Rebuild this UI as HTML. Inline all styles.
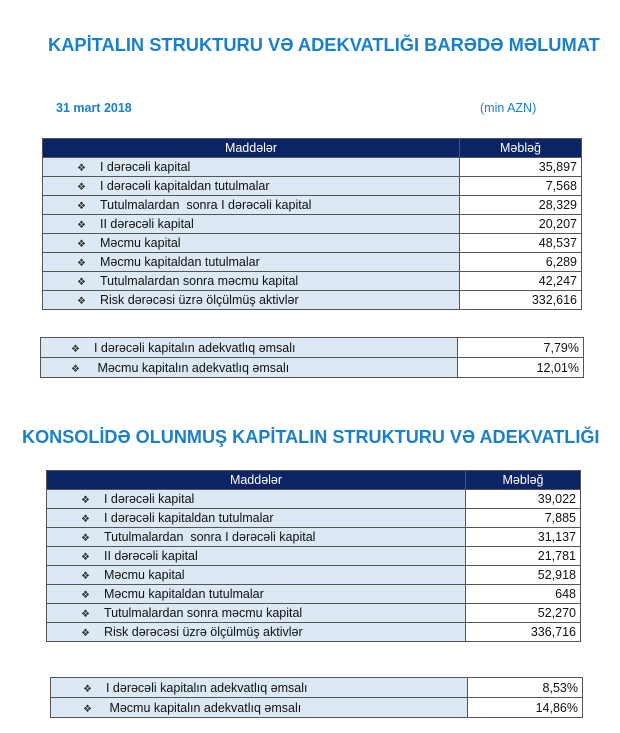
<!DOCTYPE html>
<html><head><style>
body{margin:0;width:620px;height:733px;background:#fff;font-family:"Liberation Sans",sans-serif;position:relative;overflow:hidden}
.t{position:absolute;color:#1a80cc;font-weight:bold;white-space:nowrap}
table{position:absolute;border-collapse:collapse;font-size:12.5px;color:#111}
td{border:1px solid #555;padding:0 4px;height:18px;line-height:17px;white-space:nowrap}
td.l{background:#dce8f4;padding-left:34px}
td.r{text-align:right;background:#fff}
tr.h td{background:#0c2466;color:#fff;text-align:center;padding:0}
.b{font-size:10px;line-height:10px;color:#333;margin-right:14px;position:relative;top:0px}
.s td{height:19px;line-height:18px}
</style></head><body>
<div class="t" style="left:48px;top:34px;font-size:18.3px">KAPİTALIN STRUKTURU VƏ ADEKVATLIĞI BARƏDƏ MƏLUMAT</div>
<div class="t" style="left:56px;top:101px;font-size:12.5px">31 mart 2018</div>
<div class="t" style="left:480px;top:101px;font-size:12.5px;font-weight:normal">(min AZN)</div>

<table style="left:42px;top:138px;width:540px">
<tr class="h"><td style="width:416px">Maddələr</td><td>Məbləğ</td></tr>
<tr><td class="l"><span class="b">❖</span>I dərəcəli kapital</td><td class="r">35,897</td></tr>
<tr><td class="l"><span class="b">❖</span>I dərəcəli kapitaldan tutulmalar</td><td class="r">7,568</td></tr>
<tr><td class="l"><span class="b">❖</span>Tutulmalardan&nbsp; sonra I dərəcəli kapital</td><td class="r">28,329</td></tr>
<tr><td class="l"><span class="b">❖</span>II dərəcəli kapital</td><td class="r">20,207</td></tr>
<tr><td class="l"><span class="b">❖</span>Məcmu kapital</td><td class="r">48,537</td></tr>
<tr><td class="l"><span class="b">❖</span>Məcmu kapitaldan tutulmalar</td><td class="r">6,289</td></tr>
<tr><td class="l"><span class="b">❖</span>Tutulmalardan sonra məcmu kapital</td><td class="r">42,247</td></tr>
<tr><td class="l"><span class="b">❖</span>Risk dərəcəsi üzrə ölçülmüş aktivlər</td><td class="r">332,616</td></tr>
</table>

<table class="s" style="left:40px;top:337px;width:544px">
<tr><td class="l" style="width:382px;padding-left:30px"><span class="b">❖</span>I dərəcəli kapitalın adekvatlıq əmsalı</td><td class="r">7,79%</td></tr>
<tr><td class="l" style="padding-left:30px"><span class="b">❖</span>&nbsp;Məcmu kapitalın adekvatlıq əmsalı</td><td class="r">12,01%</td></tr>
</table>

<div class="t" style="left:22px;top:427px;font-size:18.1px">KONSOLİDƏ OLUNMUŞ KAPİTALIN STRUKTURU VƏ ADEKVATLIĞI</div>

<table style="left:46px;top:470px;width:535px">
<tr class="h"><td style="width:418px">Maddələr</td><td>Məbləğ</td></tr>
<tr><td class="l"><span class="b">❖</span>I dərəcəli kapital</td><td class="r">39,022</td></tr>
<tr><td class="l"><span class="b">❖</span>I dərəcəli kapitaldan tutulmalar</td><td class="r">7,885</td></tr>
<tr><td class="l"><span class="b">❖</span>Tutulmalardan&nbsp; sonra I dərəcəli kapital</td><td class="r">31,137</td></tr>
<tr><td class="l"><span class="b">❖</span>II dərəcəli kapital</td><td class="r">21,781</td></tr>
<tr><td class="l"><span class="b">❖</span>Məcmu kapital</td><td class="r">52,918</td></tr>
<tr><td class="l"><span class="b">❖</span>Məcmu kapitaldan tutulmalar</td><td class="r">648</td></tr>
<tr><td class="l"><span class="b">❖</span>Tutulmalardan sonra məcmu kapital</td><td class="r">52,270</td></tr>
<tr><td class="l"><span class="b">❖</span>Risk dərəcəsi üzrə ölçülmüş aktivlər</td><td class="r">336,716</td></tr>
</table>

<table class="s" style="left:50px;top:677px;width:533px">
<tr><td class="l" style="width:380px;padding-left:32px"><span class="b">❖</span>I dərəcəli kapitalın adekvatlıq əmsalı</td><td class="r">8,53%</td></tr>
<tr><td class="l" style="padding-left:32px"><span class="b">❖</span>&nbsp;Məcmu kapitalın adekvatlıq əmsalı</td><td class="r">14,86%</td></tr>
</table>
</body></html>
